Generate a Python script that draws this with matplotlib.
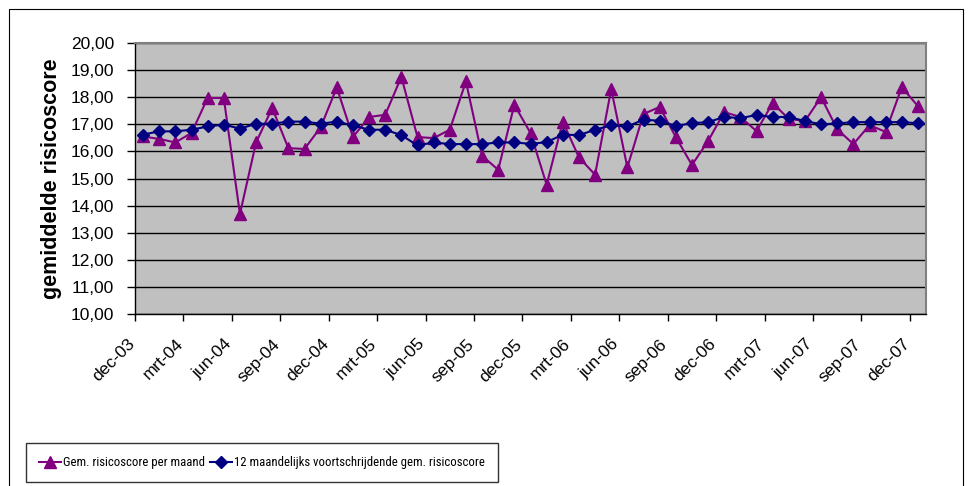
import numpy as np
import matplotlib
matplotlib.use("Agg")
import matplotlib.pyplot as plt
from matplotlib.patches import Rectangle
from matplotlib.ticker import FixedLocator, FuncFormatter
from matplotlib.transforms import ScaledTranslation

plt.rcParams['font.family'] = ['Liberation Sans', 'DejaVu Sans']

# monthly values dec-03 .. dec-07
month_labels = ["dec-03", "mrt-04", "jun-04", "sep-04", "dec-04", "mrt-05", "jun-05",
                "sep-05", "dec-05", "mrt-06", "jun-06", "sep-06", "dec-06", "mrt-07",
                "jun-07", "sep-07", "dec-07"]

score_per_month = [16.55, 16.46, 16.33, 16.68, 17.97, 17.97, 13.69, 16.33, 17.60, 16.12,
                   16.09, 16.89, 18.36, 16.53, 17.27, 17.35, 18.75, 16.53, 16.49, 16.80,
                   18.58, 15.84, 15.32, 17.72, 16.68, 14.77, 17.10, 15.78, 15.14, 18.30,
                   15.41, 17.38, 17.64, 16.53, 15.50, 16.38, 17.45, 17.27, 16.75, 17.78,
                   17.20, 17.12, 18.00, 16.82, 16.27, 16.97, 16.72, 18.37, 17.67]

rolling_12m = [16.62, 16.74, 16.74, 16.80, 16.92, 16.99, 16.84, 17.02, 17.02, 17.10,
               17.10, 17.02, 17.10, 16.96, 16.80, 16.80, 16.60, 16.22, 16.33, 16.27,
               16.27, 16.27, 16.33, 16.33, 16.28, 16.34, 16.62, 16.60, 16.80, 16.96,
               16.92, 17.17, 17.13, 16.94, 17.04, 17.08, 17.27, 17.23, 17.34, 17.27,
               17.27, 17.12, 17.00, 17.03, 17.08, 17.08, 17.08, 17.08, 17.04]

x = np.arange(len(score_per_month))

fig = plt.figure(figsize=(9.72, 4.86), dpi=100)
fig.patch.set_facecolor('white')

# outer chart border
fig.patches.append(Rectangle((9 / 972, -0.01), (963 - 9) / 972, 1 - 9 / 486 + 0.01,
                             transform=fig.transFigure, fill=False,
                             edgecolor='black', linewidth=0.8))

ax = fig.add_axes([135 / 972, (486 - 314) / 486, (926 - 135) / 972, 271 / 486])
ax.set_facecolor('#C0C0C0')

ax.plot(x, score_per_month, color='#800080', marker='^', markersize=8,
        linewidth=1.5, label='Gem. risicoscore per maand', zorder=3)
ax.plot(x, rolling_12m, color='#000080', marker='D', markersize=6.5,
        linewidth=1.5, label='12 maandelijks voortschrijdende gem. risicoscore', zorder=4)

ax.set_xlim(-0.5, len(x) - 0.5)
ax.set_ylim(10, 20)
ax.set_yticks(np.arange(10, 21, 1))
ax.yaxis.set_major_formatter(FuncFormatter(lambda v, p: f"{v:.2f}".replace('.', ',')))
ax.grid(axis='y', color='black', linewidth=1)
ax.set_axisbelow(True)

ax.xaxis.set_major_locator(FixedLocator(np.arange(0, len(x), 3)))
ax.set_xticklabels(month_labels, rotation=45, ha='right', va='top',
                   rotation_mode='anchor', fontsize=12.5, family='Liberation Sans')
ax.xaxis.set_minor_locator(FixedLocator(np.arange(-0.5, len(x), 3)))
ax.tick_params(axis='x', which='major', length=0, pad=9)
ax.tick_params(axis='x', which='minor', length=5, color='black', width=1)
ax.tick_params(axis='y', length=6, width=1, labelsize=12.5, pad=9,
               labelfontfamily='Liberation Sans')

# shift the rotated month labels left and down, like the original
shift = ScaledTranslation(-16 / 100, -10 / 100, fig.dpi_scale_trans)
for lbl in ax.get_xticklabels():
    lbl.set_transform(lbl.get_transform() + shift)

for side in ['top', 'right']:
    ax.spines[side].set_color('#808080')
    ax.spines[side].set_linewidth(1.5)
for side in ['left', 'bottom']:
    ax.spines[side].set_color('black')
    ax.spines[side].set_linewidth(1)

ax.set_ylabel('gemiddelde risicoscore', fontsize=15.5, fontweight='bold', labelpad=6,
              family='Liberation Sans')

leg = fig.legend(loc='lower left', bbox_to_anchor=(26 / 972, 4 / 486), ncol=2,
                 prop={'family': 'Roboto Condensed', 'size': 9.2},
                 frameon=True, fancybox=False, handlelength=1.7, borderaxespad=0,
                 handletextpad=0.2, columnspacing=0.4, borderpad=1.0)
leg.get_frame().set_edgecolor('black')
leg.get_frame().set_linewidth(1)

fig.savefig('out.png', dpi=100)
